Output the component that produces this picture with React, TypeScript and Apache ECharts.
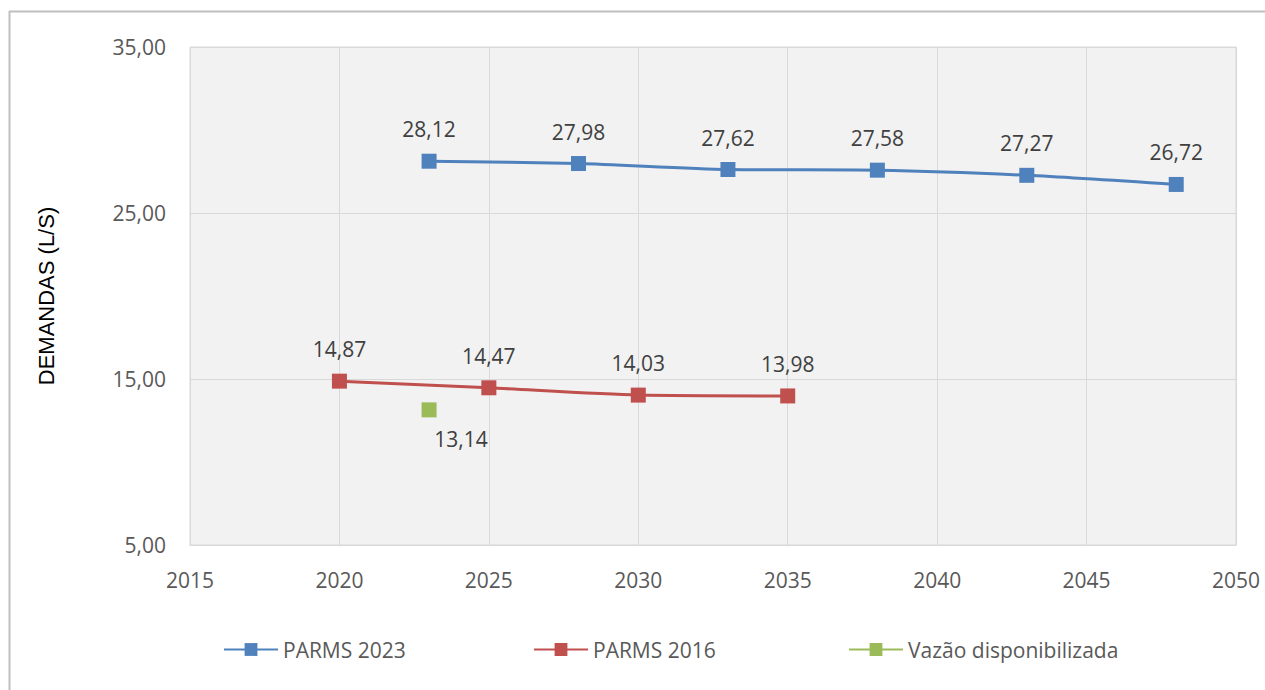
import React, { useEffect, useRef } from "react";
import * as echarts from "echarts";

const parms2023Years = [2023, 2028, 2033, 2038, 2043, 2048];
const parms2023Values = [28.12, 27.98, 27.62, 27.58, 27.27, 26.72];
const parms2016Years = [2020, 2025, 2030, 2035];
const parms2016Values = [14.87, 14.47, 14.03, 13.98];
const vazaoYears = [2023];
const vazaoValues = [13.14];
const seriesNames = ["PARMS 2023", "PARMS 2016", "Vazão disponibilizada"];
const yAxisTitle = "DEMANDAS (L/S)";

const fmt = (v: number) => v.toFixed(2).replace(".", ",");
const FONT = "'Open Sans', Lato, sans-serif";

export default function App() {
  const ref = useRef<HTMLDivElement>(null);
  useEffect(() => {
    if (!ref.current) return;
    const chart = echarts.init(ref.current, undefined, { renderer: "svg" });
    const pairs = (xs: number[], ys: number[]) => xs.map((x, i) => [x, ys[i]]);
    const labelCommon = {
      show: true,
      fontFamily: FONT,
      fontSize: 21,
      color: "#404040",
      formatter: (p: any) => fmt(p.value[1]),
    };
    chart.setOption({
      animation: false,
      backgroundColor: "#ffffff",
      graphic: [
        {
          type: "line",
          shape: { x1: 9, y1: 11.5, x2: 1265, y2: 11.5 },
          style: { stroke: "#bfbfbf", lineWidth: 2 },
          silent: true,
        },
        {
          type: "line",
          shape: { x1: 9.5, y1: 11, x2: 9.5, y2: 690 },
          style: { stroke: "#bfbfbf", lineWidth: 2 },
          silent: true,
        },
      ],
      grid: {
        left: 190,
        right: 29,
        top: 47,
        bottom: 145,
        show: true,
        backgroundColor: "#f2f2f2",
        borderColor: "#d9d9d9",
        borderWidth: 1,
      },
      legend: [0, 1, 2].map((i) => ({
        data: [seriesNames[i]],
        left: [218, 528, 843][i],
        top: 634,
        itemWidth: 54,
        itemHeight: 16,
        itemGap: 6,
        textStyle: { fontFamily: FONT, fontSize: 21, color: "#595959" },
      })),
      xAxis: {
        type: "value",
        min: 2015,
        max: 2050,
        interval: 5,
        axisLine: { show: true, lineStyle: { color: "#d9d9d9" } },
        axisTick: { show: false },
        splitLine: { show: true, lineStyle: { color: "#d9d9d9" } },
        axisLabel: {
          margin: 24,
          fontFamily: FONT,
          fontSize: 21,
          color: "#595959",
          formatter: (v: number) => String(v),
        },
      },
      yAxis: {
        type: "value",
        min: 5,
        max: 35,
        interval: 10,
        name: yAxisTitle,
        nameLocation: "middle",
        nameRotate: 90,
        nameGap: 133,
        nameTextStyle: { fontFamily: "'Liberation Sans', Arial, sans-serif", fontSize: 22, color: "#000000" },
        axisLine: { show: false },
        axisTick: { show: false },
        splitLine: { show: true, lineStyle: { color: "#d9d9d9" } },
        axisLabel: {
          margin: 24,
          fontFamily: FONT,
          fontSize: 21,
          color: "#595959",
          formatter: (v: number) => fmt(v),
        },
      },
      series: [
        {
          name: seriesNames[0],
          type: "line",
          data: pairs(parms2023Years, parms2023Values),
          smooth: 0.25,
          symbol: "rect",
          symbolSize: 15,
          lineStyle: { width: 3, color: "#4f81bd" },
          itemStyle: { color: "#4f81bd" },
          label: { ...labelCommon, position: "top", distance: 14 },
        },
        {
          name: seriesNames[1],
          type: "line",
          data: pairs(parms2016Years, parms2016Values),
          smooth: 0.25,
          symbol: "rect",
          symbolSize: 15,
          lineStyle: { width: 3, color: "#c0504d" },
          itemStyle: { color: "#c0504d" },
          label: { ...labelCommon, position: "top", distance: 14 },
        },
        {
          name: seriesNames[2],
          type: "line",
          data: pairs(vazaoYears, vazaoValues),
          symbol: "rect",
          symbolSize: 15,
          lineStyle: { width: 3, color: "#9bbb59" },
          itemStyle: { color: "#9bbb59" },
          label: { ...labelCommon, position: "bottom", distance: 11, offset: [32, 0] },
        },
      ],
    });
    return () => chart.dispose();
  }, []);
  return (
    <div
      ref={ref}
      style={{ position: "fixed", left: 0, top: 0, width: 1265, height: 690 }}
    />
  );
}
